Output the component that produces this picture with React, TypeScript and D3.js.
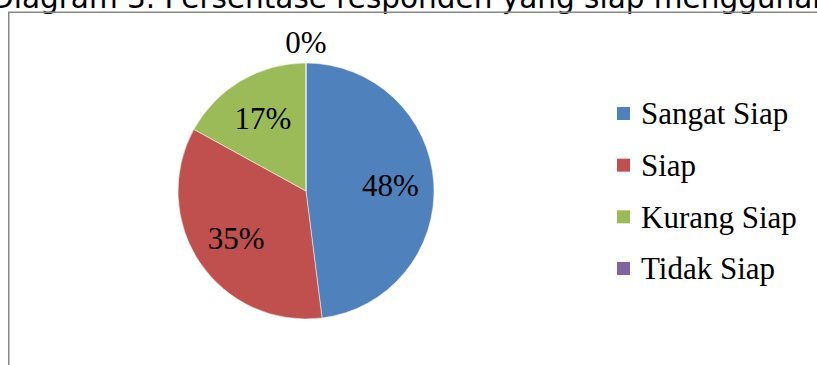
import React from "react";
import * as d3 from "d3";

const categories = ["Sangat Siap", "Siap", "Kurang Siap", "Tidak Siap"];
const values = [48, 35, 17, 0];
const colors = ["#4F81BD", "#C0504D", "#9BBB59", "#8064A2"];
const title = "Diagram 3. Persentase responden yang siap menggunakan";

export default function App() {
  const W = 817;
  const H = 365;
  const cx = 306;
  const cy = 191;
  const r = 128;

  const pie = d3.pie<number>().sort(null).value((d) => d)(values);
  const arc = d3.arc<d3.PieArcDatum<number>>().innerRadius(0).outerRadius(r);
  const labelArc = d3
    .arc<d3.PieArcDatum<number>>()
    .innerRadius(r * 0.66)
    .outerRadius(r * 0.66);
  const outArc = d3
    .arc<d3.PieArcDatum<number>>()
    .innerRadius(r * 1.16)
    .outerRadius(r * 1.16);

  const legendY = d3
    .scalePoint<string>()
    .domain(categories)
    .range([114, 269]);

  const fmt = (v: number) => `${v}%`;

  return (
    <div style={{ position: "fixed", left: 0, top: 0, width: W, height: H, background: "#fff" }}>
      <svg width={W} height={H} style={{ display: "block" }}>
        <rect x={0} y={0} width={W} height={H} fill="#fff" />
        <text
          x={-9}
          y={7.5}
          fontFamily="DejaVu Sans, Verdana, sans-serif"
          fontSize={29.5}
          fill="#000"
        >
          {title}
        </text>
        <rect
          x={8.75}
          y={12.25}
          width={W + 20}
          height={H + 20}
          fill="none"
          stroke="#888888"
          strokeWidth={1.5}
        />
        <g transform={`translate(${cx},${cy})`}>
          {pie.map((p, i) => (
            <path key={i} d={arc(p) || ""} fill={colors[i]} stroke="#fff" strokeWidth={0.5} />
          ))}
          {pie.map((p, i) => {
            const [lx, ly] = p.value === 0 ? outArc.centroid(p) : labelArc.centroid(p);
            return (
              <text
                key={"l" + i}
                x={lx}
                y={ly}
                dy="0.33em"
                textAnchor="middle"
                fontFamily="Liberation Serif, Times New Roman, serif"
                fontSize={31}
                fill="#000"
              >
                {fmt(values[i])}
              </text>
            );
          })}
        </g>
        <g>
          {categories.map((c, i) => {
            const y = legendY(c) as number;
            return (
              <g key={c}>
                <rect x={617} y={y - 7} width={13} height={13} fill={colors[i]} />
                <text
                  x={641}
                  y={y}
                  dy="0.33em"
                  fontFamily="Liberation Serif, Times New Roman, serif"
                  fontSize={31}
                  fill="#000"
                >
                  {c}
                </text>
              </g>
            );
          })}
        </g>
      </svg>
    </div>
  );
}
